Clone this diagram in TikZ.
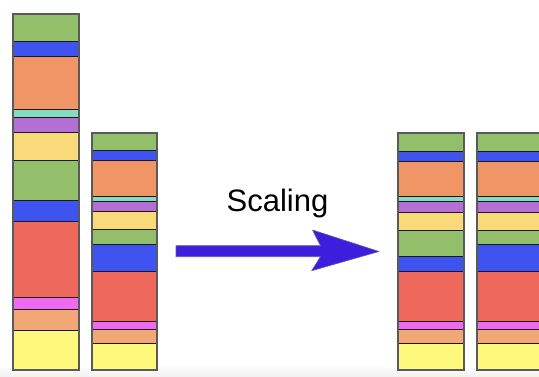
\documentclass[tikz,border=0pt]{standalone}
\usepackage{fontspec}
\setmainfont{Liberation Sans}
\definecolor{bgreen}{HTML}{94BF6A}
\definecolor{bblue}{HTML}{3F53F0}
\definecolor{borange}{HTML}{F09566}
\definecolor{bteal}{HTML}{86DCC2}
\definecolor{bpurple}{HTML}{B36FD3}
\definecolor{byellow}{HTML}{F9D97A}
\definecolor{bred}{HTML}{EE695C}
\definecolor{bmagenta}{HTML}{EE6BF1}
\definecolor{blorange}{HTML}{F2A876}
\definecolor{blyellow}{HTML}{FEF97D}
\definecolor{arrowblue}{HTML}{3C1EDC}
\definecolor{framegrey}{HTML}{5A5A5A}
\tikzset{
  band/.style={fill=#1},
  sep/.style={black!90, line width=2pt},
  colframe/.style={framegrey, line width=2pt},
  bigarrow/.style={fill=arrowblue, draw=gray!60!arrowblue, line width=0.6pt, line join=round},
  caption/.style={font=\fontsize{31}{36}\selectfont, inner sep=0pt, anchor=base}
}
% one column of coloured layers: #1 = left x, #2 = right x, #3 = top/bottom/colour list
\newcommand{\layercolumn}[3]{%
  \foreach \yt/\yb/\c in {#3} {
    \fill[band=\c] (#1,\yt) rectangle (#2,\yb);
    \draw[sep] (#1,\yb) -- (#2,\yb);
  }
}
\begin{document}
\begin{tikzpicture}[x=1pt, y=-1pt]
  \useasboundingbox (0,0) rectangle (539,376);
  \fill[white] (0,0) rectangle (539,376);
  \shade[top color=white, bottom color=black!5] (0,364) rectangle (539,376);
  \begin{scope}
    \clip (0,0) rectangle (539,376);
    % original column, left
    \layercolumn{13.3}{79}{14/42/bgreen, 42/57.3/bblue, 57.3/110.3/borange, 110.3/118.3/bteal,
      118.3/133.3/bpurple, 133.3/160.7/byellow, 160.7/200.7/bgreen, 200.7/222/bblue,
      222/298.3/bred, 298.3/309.7/bmagenta, 309.7/331.3/blorange, 331.3/370/blyellow}
    \draw[colframe] (13.3,14) rectangle (79,370);
    % original column, right
    \layercolumn{91.7}{156.7}{132.7/151/bgreen, 151/161.3/bblue, 161.3/196.7/borange, 196.7/202/bteal,
      202/212.3/bpurple, 212.3/230.3/byellow, 230.3/244.7/bgreen, 244.7/271.7/bblue,
      271.7/322/bred, 322/330/bmagenta, 330/344/blorange, 344/370/blyellow}
    \draw[colframe] (91.7,132.7) rectangle (156.7,370);
    % scaled column, left
    \layercolumn{398.3}{464}{133.3/151.7/bgreen, 151.7/161.7/bblue, 161.7/197.3/borange, 197.3/202.3/bteal,
      202.3/212.7/bpurple, 212.7/230.7/byellow, 230.7/257.3/bgreen, 257.3/272/bblue,
      272/322.3/bred, 322.3/330.3/bmagenta, 330.3/344.3/blorange, 344.3/370/blyellow}
    \draw[colframe] (398.3,133.3) rectangle (464,370);
    % scaled column, right
    \layercolumn{477.3}{543}{133.3/151.7/bgreen, 151.7/161.7/bblue, 161.7/197.3/borange, 197.3/202.3/bteal,
      202.3/212.7/bpurple, 212.7/230.7/byellow, 230.7/244.7/bgreen, 244.7/272/bblue,
      272/322.3/bred, 322.3/330.3/bmagenta, 330.3/344.3/blorange, 344.3/370/blyellow}
    \draw[colframe] (477.3,133.3) rectangle (543,370);
  \end{scope}
  % label and arrow
  \node[caption] (label) at (277.5,211.7) {Scaling};
  \coordinate (tailtop) at (176,245.7);
  \coordinate (tailbot) at (176,256.7);
  \coordinate (tip) at (379,251.5);
  \draw[bigarrow] (tailtop) -- (320.5,245.7) -- (312.5,230) -- (tip)
    -- (311.7,270.7) -- (320.5,256.7) -- (tailbot) -- cycle;
\end{tikzpicture}
\end{document}
